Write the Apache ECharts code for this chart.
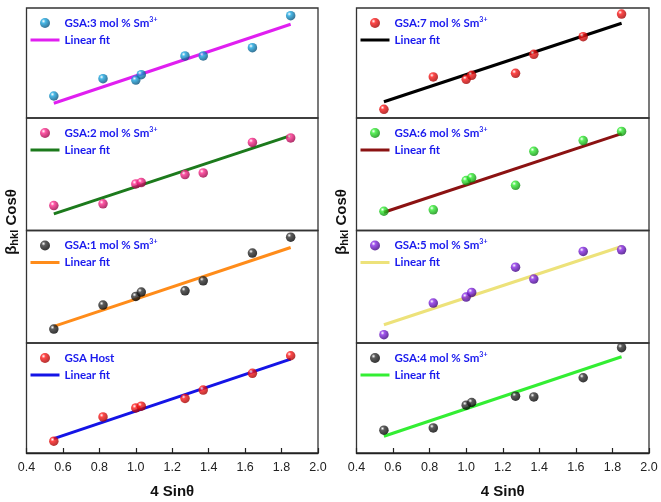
<!DOCTYPE html>
<html><head><meta charset="utf-8">
<script src="https://cdn.jsdelivr.net/npm/echarts@6/dist/echarts.min.js"></script>
<style>html,body{margin:0;padding:0;background:#fff}#c{width:661px;height:502px}</style>
</head><body><div id="c"></div>
<script>
// x values (4 Sinθ)
const xVals = [0.55, 0.82, 1.00, 1.03, 1.27, 1.37, 1.64, 1.85];
const fitX = [0.55, 1.85];
const xTicks = [0.4, 0.6, 0.8, 1.0, 1.2, 1.4, 1.6, 1.8, 2.0];

// y values (βhkl Cosθ, arbitrary relative units per panel)
const y3 = [20.0, 35.7, 34.5, 39.4, 56.4, 56.4, 63.9, 93.0];
const fit3 = [13.4, 85.2];
const y2 = [22.2, 23.7, 41.4, 42.6, 49.7, 51.2, 78.3, 82.3];
const fit2 = [14.8, 84.3];
const y1 = [12.4, 33.7, 41.4, 45.3, 46.4, 55.3, 79.9, 94.1];
const fit1 = [14.8, 84.9];
const yHost = [10.7, 32.8, 41.0, 42.6, 49.6, 57.2, 72.4, 88.4];
const fitHost = [13.1, 85.4];
const y7 = [7.9, 37.3, 35.2, 38.8, 40.6, 57.9, 73.9, 94.5];
const fit7 = [14.8, 86.1];
const y6 = [17.1, 18.4, 44.4, 46.8, 40.2, 70.4, 79.9, 88.1];
const fit6 = [16.2, 86.1];
const y5 = [7.4, 35.5, 40.8, 45.0, 67.4, 56.8, 81.4, 82.8];
const fit5 = [16.2, 85.8];
const y4 = [20.7, 22.8, 43.5, 45.9, 51.7, 51.0, 68.4, 95.7];
const fit4 = [15.2, 87.5];

const labels = ['GSA:3 mol % Sm3+', 'GSA:2 mol % Sm3+', 'GSA:1 mol % Sm3+', 'GSA Host',
                'GSA:7 mol % Sm3+', 'GSA:6 mol % Sm3+', 'GSA:5 mol % Sm3+', 'GSA:4 mol % Sm3+'];

const panels = [
  {pts: y3, fit: fit3, c: '#1aa6e0', d: '#05507a', fc: '#e01ff0'},
  {pts: y2, fit: fit2, c: '#ff2d8f', d: '#9a0045', fc: '#1c7a1c'},
  {pts: y1, fit: fit1, c: '#333333', d: '#000000', fc: '#ff8c1a'},
  {pts: yHost, fit: fitHost, c: '#ff1a1a', d: '#a00000', fc: '#1414e6'},
  {pts: y7, fit: fit7, c: '#ff1a1a', d: '#a00000', fc: '#000000'},
  {pts: y6, fit: fit6, c: '#33ee33', d: '#0a8a0a', fc: '#8b1212'},
  {pts: y5, fit: fit5, c: '#8a2be8', d: '#3d0080', fc: '#ede27a'},
  {pts: y4, fit: fit4, c: '#333333', d: '#000000', fc: '#33ee33'}
];

const tops = [8, 118, 230.5, 343];
const heights = [110, 112.5, 112.5, 110];
const grids = [], xAxes = [], yAxes = [], series = [], legends = [];

panels.forEach((p, i) => {
  const col = Math.floor(i / 4), row = i % 4;
  const bottomRow = row === 3;
  grids.push({
    left: col === 0 ? 26.5 : 356.5,
    width: col === 0 ? 291.5 : 292.5,
    top: tops[row], height: heights[row],
    show: true, borderColor: '#333', borderWidth: 1.3, backgroundColor: 'transparent'
  });
  xAxes.push({
    type: 'value', gridIndex: i, min: 0.4, max: 2.0, interval: 0.2,
    axisLine: {show: bottomRow, lineStyle: {color: '#222', width: 1.3}},
    axisTick: {show: bottomRow, inside: true, length: 5, lineStyle: {color: '#222', width: 1.2}},
    axisLabel: {show: bottomRow, margin: 8, color: '#222', fontSize: 12.5,
      fontFamily: 'Liberation Sans', formatter: v => v.toFixed(1)},
    splitLine: {show: false},
    name: bottomRow ? '4 Sin\u03b8' : '', nameLocation: 'middle', nameGap: 31,
    nameTextStyle: {fontSize: 15, fontWeight: 'bold', color: '#111', fontFamily: 'Liberation Sans'}
  });
  yAxes.push({type: 'value', gridIndex: i, min: 0, max: 100, show: false});
  const grad = {type: 'radial', x: 0.35, y: 0.32, r: 0.7,
    colorStops: [{offset: 0, color: '#ffffff'}, {offset: 0.3, color: p.c}, {offset: 1, color: p.d}]};
  series.push({
    name: labels[i], type: 'scatter', xAxisIndex: i, yAxisIndex: i,
    symbol: 'circle', symbolSize: 9.5, itemStyle: {color: grad},
    data: xVals.map((x, k) => [x, p.pts[k]]), z: 3
  });
  series.push({
    name: 'fit' + i, type: 'line', xAxisIndex: i, yAxisIndex: i,
    showSymbol: false, symbol: 'none', lineStyle: {color: p.fc, width: 3},
    itemStyle: {color: p.fc},
    data: fitX.map((x, k) => [x, p.fit[k]]), z: 2
  });
  legends.push({
    orient: 'vertical', left: col === 0 ? 24 : 354, top: tops[row] + 3,
    itemWidth: 29, itemHeight: 10, itemGap: 3, selectedMode: false,
    data: [labels[i], {name: 'fit' + i, itemStyle: {opacity: 0, borderWidth: 0},
      lineStyle: {width: 3, color: p.fc}}],
    formatter: n => n.startsWith('fit') ? 'Linear fit' : n.replace('Sm3+', 'Sm{sup|3+}'),
    textStyle: {color: '#1a1aee', fontWeight: 'bold', fontSize: 11.5, fontFamily: 'Lato',
      lineHeight: 14,
      rich: {sup: {fontSize: 7, fontWeight: 'bold', color: '#1a1aee', fontFamily: 'Lato',
        verticalAlign: 'top', lineHeight: 9, padding: [0, 0, 5, 0]}}}
  });
});

const yTitle = (cx) => ({
  type: 'text', x: cx, y: 222, rotation: Math.PI / 2,
  style: {
    text: '\u03b2{sub|hkl} Cos\u03b8', textAlign: 'center', textVerticalAlign: 'middle',
    fontSize: 15, fontWeight: 'bold', fontFamily: 'Liberation Sans', fill: '#111',
    rich: {sub: {fontSize: 11, fontWeight: 'bold', fontFamily: 'Liberation Sans', fill: '#111',
      verticalAlign: 'bottom', padding: [6, 0, 0, 0]}}
  }
});

const chart = echarts.init(document.getElementById('c'), null, {renderer: 'canvas'});
chart.setOption({
  animation: false,
  backgroundColor: '#fff',
  grid: grids, xAxis: xAxes, yAxis: yAxes, series: series, legend: legends,
  graphic: [yTitle(12), yTitle(342)]
});
</script></body></html>
